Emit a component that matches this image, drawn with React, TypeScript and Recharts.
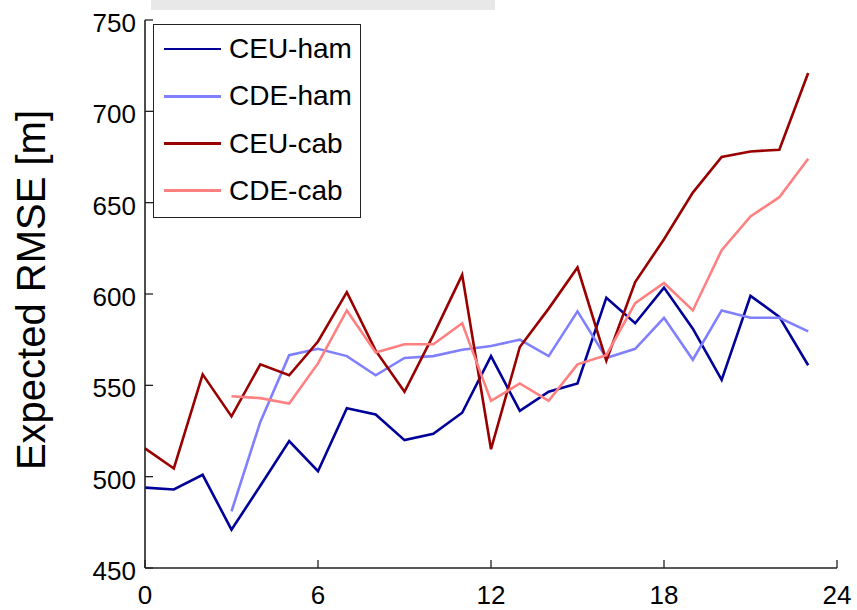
import React from "react";
import { LineChart, Line, XAxis, YAxis, Legend } from "recharts";

// Hour of day on the horizontal axis
const hours = [0, 1, 2, 3, 4, 5, 6, 7, 8, 9, 10, 11, 12, 13, 14, 15, 16, 17, 18, 19, 20, 21, 22, 23];

// Expected RMSE [m] for each method
const ceuHam = [494, 493, 501, 471, 495, 519.5, 503, 537.5, 534, 520, 523.5, 535, 566, 536, 546.5, 551, 598, 584, 603.5, 581, 553, 599, 587.5, 561];
const cdeHam = [null, null, null, 481, 530, 566.5, 570, 566, 555.5, 565, 566, 569.5, 571.5, 575, 566, 590.5, 565, 570, 587, 564, 591, 587, 587, 579.5];
const ceuCab = [515.5, 504.5, 556, 533, 561.5, 555.5, 574, 601, 569, 546.5, 577.5, 610.5, 515, 571, 592, 614.5, 563.5, 606.5, 630, 655.5, 675, 678, 679, 721];
const cdeCab = [null, null, null, 544, 543, 540, 562, 591, 568, 572.5, 572.5, 584, 541.5, 551, 541.5, 561.5, 566.5, 595, 606, 591, 624, 642.5, 653, 674];

const xTicks = [0, 6, 12, 18, 24];
const yTicks = [450, 500, 550, 600, 650, 700, 750];

const series = [
  { key: "ceuHam", name: "CEU-ham", color: "#000099" },
  { key: "cdeHam", name: "CDE-ham", color: "#8080ff" },
  { key: "ceuCab", name: "CEU-cab", color: "#990000" },
  { key: "cdeCab", name: "CDE-cab", color: "#ff8080" },
];

const data = hours.map((h, i) => ({
  hour: h,
  ceuHam: ceuHam[i],
  cdeHam: cdeHam[i],
  ceuCab: ceuCab[i],
  cdeCab: cdeCab[i],
}));

const FONT = "'Liberation Sans', Arial, Helvetica, sans-serif";
const AXIS_COLOR = "#222";
const TICK_LEN = 8;

const BottomTick = (props: any) => {
  const { x, y, payload } = props;
  return (
    <g>
      <line x1={x} y1={y} x2={x} y2={y - TICK_LEN} stroke={AXIS_COLOR} strokeWidth={1.3} />
      <text x={x} y={y + 36} textAnchor="middle" fontSize={26} fontFamily={FONT} fill="#000">
        {payload.value}
      </text>
    </g>
  );
};

const TopTick = (props: any) => {
  const { x, y } = props;
  return <line x1={x} y1={y} x2={x} y2={y + TICK_LEN} stroke={AXIS_COLOR} strokeWidth={1.3} />;
};

const LeftTick = (props: any) => {
  const { x, y, payload } = props;
  return (
    <g>
      <line x1={x} y1={y} x2={x + TICK_LEN} y2={y} stroke={AXIS_COLOR} strokeWidth={1.3} />
      <text x={x - 9} y={y + 12} textAnchor="end" fontSize={26} fontFamily={FONT} fill="#000">
        {payload.value}
      </text>
    </g>
  );
};

const RightTick = (props: any) => {
  const { x, y } = props;
  return <line x1={x} y1={y} x2={x - TICK_LEN} y2={y} stroke={AXIS_COLOR} strokeWidth={1.3} />;
};

const YLabel = (props: any) => {
  const vb = props.viewBox || {};
  const cy = vb.y + vb.height / 2 - 4;
  const cx = 45;
  return (
    <text
      x={cx}
      y={cy}
      transform={`rotate(-90, ${cx}, ${cy})`}
      textAnchor="middle"
      fontSize={40}
      fontFamily={FONT}
      fill="#000"
    >
      Expected RMSE [m]
    </text>
  );
};

// Boxed legend listing the series in plotting order
const LegendBox = () => (
  <div
    style={{
      position: "relative",
      width: 208,
      height: 194,
      boxSizing: "border-box",
      border: `1.5px solid ${AXIS_COLOR}`,
      background: "#fff",
      fontFamily: FONT,
    }}
  >
    {series.map((s, i) => (
      <div
        key={s.key}
        style={{
          position: "absolute",
          left: 0,
          top: 24 + 47.3 * i - 20,
          height: 40,
          display: "flex",
          alignItems: "center",
        }}
      >
        <div style={{ marginLeft: 10, width: 57, height: 2.8, background: s.color }} />
        <span style={{ marginLeft: 8, fontSize: 28, color: "#000", lineHeight: "40px", whiteSpace: "nowrap" }}>
          {s.name}
        </span>
      </div>
    ))}
  </div>
);

export default function App() {
  return (
    <div
      style={{
        position: "absolute",
        left: 0,
        top: 0,
        width: 857,
        height: 610,
        background: "#fff",
        overflow: "hidden",
      }}
    >
      <div
        style={{
          position: "absolute",
          left: 151,
          top: 0,
          width: 344,
          height: 10,
          background: "#e8e8e8",
        }}
      />
      <LineChart
        width={857}
        height={610}
        data={data}
        margin={{ top: 20, right: 20, bottom: 0, left: 0 }}
      >
        <XAxis
          xAxisId="bottom"
          dataKey="hour"
          type="number"
          domain={[0, 24]}
          ticks={xTicks}
          height={42}
          tickSize={0}
          tickMargin={0}
          tickLine={false}
          axisLine={{ stroke: AXIS_COLOR, strokeWidth: 1.6 }}
          tick={<BottomTick />}
          interval={0}
        />
        <XAxis
          xAxisId="top"
          orientation="top"
          dataKey="hour"
          type="number"
          domain={[0, 24]}
          ticks={xTicks}
          height={0}
          tickSize={0}
          tickMargin={0}
          tickLine={false}
          axisLine={{ stroke: AXIS_COLOR, strokeWidth: 1.6 }}
          tick={<TopTick />}
          interval={0}
        />
        <YAxis
          yAxisId="left"
          type="number"
          domain={[450, 750]}
          ticks={yTicks}
          width={145}
          tickSize={0}
          tickMargin={0}
          tickLine={false}
          axisLine={{ stroke: AXIS_COLOR, strokeWidth: 1.6 }}
          tick={<LeftTick />}
          interval={0}
          label={<YLabel />}
        />
        <YAxis
          yAxisId="right"
          orientation="right"
          type="number"
          domain={[450, 750]}
          ticks={yTicks}
          width={0}
          tickSize={0}
          tickMargin={0}
          tickLine={false}
          axisLine={{ stroke: AXIS_COLOR, strokeWidth: 1.6 }}
          tick={<RightTick />}
          interval={0}
        />
        {series.map((s) => (
          <Line
            key={s.key}
            xAxisId="bottom"
            yAxisId="left"
            type="linear"
            dataKey={s.key}
            name={s.name}
            stroke={s.color}
            strokeWidth={2.6}
            dot={false}
            activeDot={false}
            isAnimationActive={false}
          />
        ))}
        <Legend
          layout="horizontal"
          verticalAlign="middle"
          align="center"
          wrapperStyle={{ left: 153, top: 24, width: 208, height: 194 }}
          content={<LegendBox />}
        />
      </LineChart>
    </div>
  );
}
